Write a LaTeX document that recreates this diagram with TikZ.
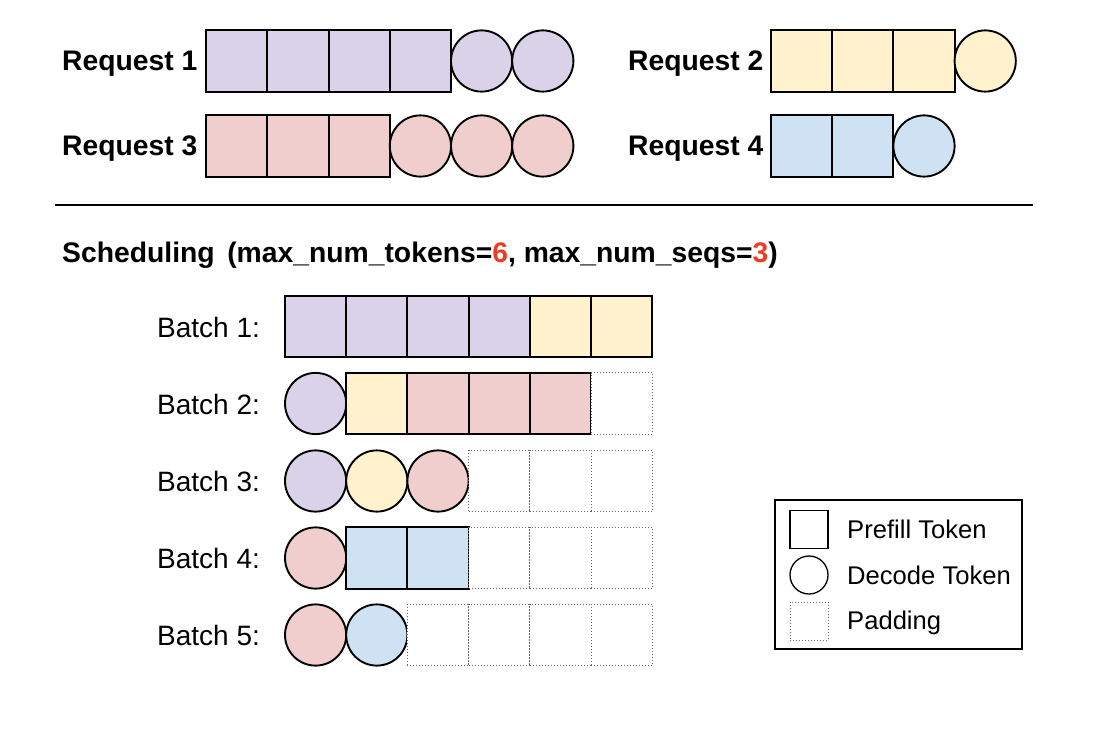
\documentclass[tikz,border=0pt]{standalone}
\usepackage{fontspec}
\setmainfont{Liberation Sans}
\definecolor{pu}{HTML}{D9D2E9}
\definecolor{ye}{HTML}{FFF2CC}
\definecolor{pk}{HTML}{F0CECE}
\definecolor{bl}{HTML}{CFE2F3}
\definecolor{numred}{HTML}{EE3B24}
\definecolor{padgray}{HTML}{666666}
\tikzset{
  tok/.style={draw=black, line width=1.9pt, minimum size=61.2pt, inner sep=0pt, outer sep=0pt},
  sq/.style={tok, rectangle},
  dec/.style={tok, circle},
  pad/.style={rectangle, draw=padgray, line width=1pt, dash pattern=on 1pt off 2pt, minimum size=61.2pt, inner sep=0pt, outer sep=0pt},
  reqlabel/.style={anchor=base west, inner sep=0pt, font=\fontsize{28.3}{33}\selectfont\bfseries},
  batchlabel/.style={anchor=base west, inner sep=0pt, font=\fontsize{28}{33}\selectfont},
  leglabel/.style={anchor=base west, inner sep=0pt, font=\fontsize{25.6}{30}\selectfont},
  legsq/.style={rectangle, draw=black, line width=1.3pt, minimum size=38pt, inner sep=0pt},
  legci/.style={circle, draw=black, line width=1.3pt, minimum size=38pt, inner sep=0pt},
  legpad/.style={rectangle, draw=padgray, line width=1pt, dash pattern=on 1pt off 2pt, minimum size=38pt, inner sep=0pt},
}
\begin{document}
\begin{tikzpicture}[x=1pt, y=-1pt]
\useasboundingbox (0,0) rectangle (1118,738);
% Requests
\node[reqlabel] (l1) at (62,71) {Request 1};
\node[reqlabel] (l3) at (62,156) {Request 3};
\node[reqlabel] (l2) at (628,71) {Request 2};
\node[reqlabel] (l4) at (628,156) {Request 4};
\foreach \t/\c [count=\i from 0] in {sq/pu,sq/pu,sq/pu,sq/pu,dec/pu,dec/pu}
  \node[\t, fill=\c] (ra-\i) at ({236.8+61.2*\i},61) {};
\foreach \t/\c [count=\i from 0] in {sq/pk,sq/pk,sq/pk,dec/pk,dec/pk,dec/pk}
  \node[\t, fill=\c] (rc-\i) at ({236.8+61.2*\i},146) {};
\foreach \t/\c [count=\i from 0] in {sq/ye,sq/ye,sq/ye,dec/ye}
  \node[\t, fill=\c] (rb-\i) at ({801.6+61.2*\i},61) {};
\foreach \t/\c [count=\i from 0] in {sq/bl,sq/bl,dec/bl}
  \node[\t, fill=\c] (rd-\i) at ({801.6+61.2*\i},146) {};
% separator
\coordinate (sepL) at (55,205);
\coordinate (sepR) at (1033,205);
\draw[line width=1.9pt] (sepL) -- (sepR);
% scheduling title
\node[reqlabel] (title) at (62,262) {Scheduling \,(max\_num\_tokens=\textcolor{numred}{6}, max\_num\_seqs=\textcolor{numred}{3})};
% batches
\node[batchlabel] (b1) at (157,337) {Batch 1:};
\node[batchlabel] (b2) at (157,414) {Batch 2:};
\node[batchlabel] (b3) at (157,491) {Batch 3:};
\node[batchlabel] (b4) at (157,568) {Batch 4:};
\node[batchlabel] (b5) at (157,645) {Batch 5:};
\foreach \t/\c [count=\i from 0] in {sq/pu,sq/pu,sq/pu,sq/pu,sq/ye,sq/ye}
  \node[\t, fill=\c] (ba-\i) at ({315.6+61.2*\i},326.5) {};
\foreach \t/\c [count=\i from 0] in {dec/pu,sq/ye,sq/pk,sq/pk,sq/pk,pad/white}
  \node[\t, fill=\c] (bb-\i) at ({315.6+61.2*\i},403.5) {};
\foreach \t/\c [count=\i from 0] in {dec/pu,dec/ye,dec/pk,pad/white,pad/white,pad/white}
  \node[\t, fill=\c] (bc-\i) at ({315.6+61.2*\i},481) {};
\foreach \t/\c [count=\i from 0] in {dec/pk,sq/bl,sq/bl,pad/white,pad/white,pad/white}
  \node[\t, fill=\c] (bd-\i) at ({315.6+61.2*\i},558) {};
\foreach \t/\c [count=\i from 0] in {dec/pk,dec/bl,pad/white,pad/white,pad/white,pad/white}
  \node[\t, fill=\c] (be-\i) at ({315.6+61.2*\i},635) {};
% legend
\node[draw=black, line width=1.8pt, rectangle, minimum width=247pt, minimum height=149pt, inner sep=0pt] (legend) at (898.5,574.5) {};
\node[legsq] (lgsq) at (809,529.5) {};
\node[legci] (lgci) at (809,575) {};
\node[legpad] (lgpad) at (809,621) {};
\node[leglabel] (tp) at (847,538) {Prefill Token};
\node[leglabel] (td) at (847,584) {Decode Token};
\node[leglabel] (tpd) at (847,629) {Padding};
\end{tikzpicture}
\end{document}
